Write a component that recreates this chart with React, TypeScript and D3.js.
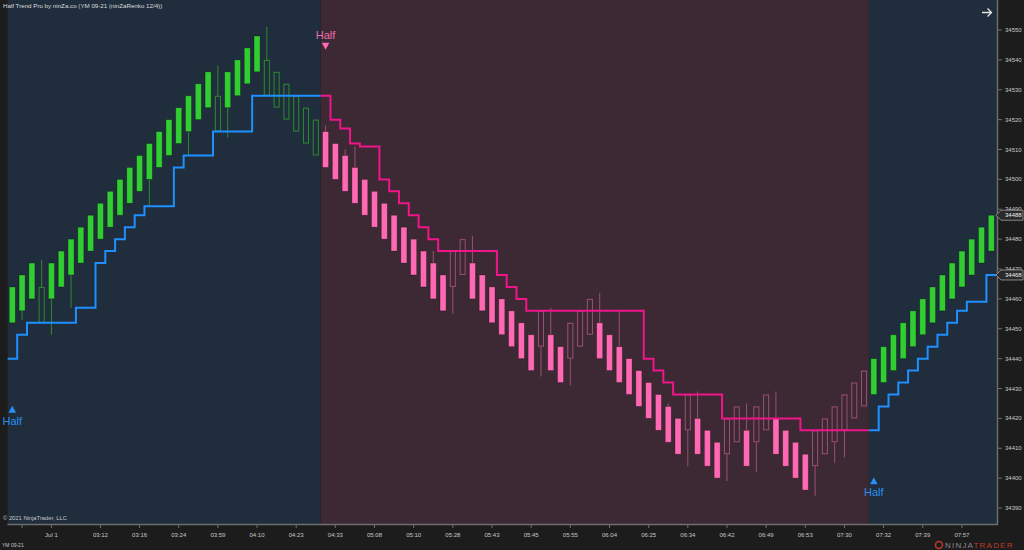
import * as d3 from 'd3'
import React from 'react'

// ninZaRenko 12/4 bricks (YM 09-21)
const opens = [
  34452, 34456, 34460, 34464, 34460, 34464, 34468, 34472, 34476, 34480,
  34484, 34488, 34492, 34496, 34500, 34504, 34508, 34512, 34516, 34520,
  34524, 34528, 34524, 34528, 34532, 34536, 34540, 34536, 34532, 34528,
  34524, 34520, 34516, 34512, 34508, 34504, 34500, 34496, 34492, 34488,
  34484, 34480, 34476, 34472, 34468, 34464, 34468, 34472, 34468, 34464,
  34460, 34456, 34452, 34448, 34444, 34448, 34444, 34440, 34444, 34448,
  34452, 34448, 34444, 34440, 34436, 34432, 34428, 34424, 34420, 34416,
  34420, 34416, 34412, 34408, 34412, 34416, 34412, 34416, 34420, 34416,
  34412, 34408, 34404, 34408, 34412, 34416, 34420, 34424, 34428, 34432,
  34436, 34440, 34444, 34448, 34452, 34456, 34460, 34464, 34468, 34472,
  34476,
]
const closes = [
  34464, 34468, 34472, 34452, 34472, 34476, 34480, 34484, 34488, 34492,
  34496, 34500, 34504, 34508, 34512, 34516, 34520, 34524, 34528, 34532,
  34536, 34516, 34536, 34540, 34544, 34548, 34528, 34524, 34520, 34516,
  34512, 34508, 34504, 34500, 34496, 34492, 34488, 34484, 34480, 34476,
  34472, 34468, 34464, 34460, 34456, 34476, 34480, 34460, 34456, 34452,
  34448, 34444, 34440, 34436, 34456, 34436, 34432, 34452, 34456, 34460,
  34440, 34436, 34432, 34428, 34424, 34420, 34416, 34412, 34408, 34428,
  34408, 34404, 34400, 34420, 34424, 34404, 34424, 34428, 34408, 34404,
  34400, 34396, 34416, 34420, 34424, 34428, 34432, 34436, 34440, 34444,
  34448, 34452, 34456, 34460, 34464, 34468, 34472, 34476, 34480, 34484,
  34488,
]
const highs = [
  34464, 34468, 34472, 34473, 34472, 34476, 34480, 34484, 34488, 34492,
  34496, 34500, 34504, 34508, 34512, 34516, 34520, 34524, 34528, 34532,
  34536, 34538, 34536, 34540, 34544, 34548, 34551, 34536, 34532, 34528,
  34524, 34520, 34518, 34512, 34510, 34511, 34500, 34496, 34492, 34488,
  34484, 34480, 34476, 34476, 34468, 34476, 34480, 34481, 34468, 34464,
  34460, 34456, 34452, 34448, 34456, 34457, 34444, 34452, 34456, 34460,
  34462, 34448, 34456, 34440, 34436, 34432, 34428, 34425, 34420, 34428,
  34429, 34416, 34412, 34420, 34424, 34425, 34424, 34428, 34429, 34416,
  34412, 34408, 34416, 34420, 34424, 34428, 34432, 34436, 34440, 34444,
  34448, 34452, 34456, 34460, 34464, 34468, 34472, 34476, 34480, 34484,
  34488,
]
const lows = [
  34452, 34453, 34460, 34452, 34448, 34464, 34457, 34472, 34476, 34480,
  34484, 34488, 34492, 34496, 34491, 34504, 34508, 34512, 34508, 34520,
  34524, 34516, 34514, 34528, 34532, 34536, 34528, 34524, 34520, 34516,
  34512, 34508, 34504, 34500, 34496, 34492, 34488, 34484, 34480, 34476,
  34472, 34468, 34464, 34460, 34456, 34455, 34468, 34460, 34456, 34452,
  34448, 34444, 34440, 34436, 34434, 34436, 34432, 34431, 34444, 34448,
  34440, 34436, 34432, 34428, 34424, 34420, 34416, 34412, 34408, 34404,
  34408, 34404, 34400, 34399, 34412, 34404, 34402, 34416, 34408, 34404,
  34400, 34396, 34394, 34408, 34405, 34407, 34420, 34424, 34428, 34432,
  34436, 34440, 34444, 34448, 34452, 34456, 34460, 34464, 34468, 34472,
  34476,
]
// HalfTrend line value per bar
const halfTrend = [
  34440, 34448, 34452, 34452, 34452, 34452, 34452, 34457, 34457, 34472,
  34476, 34480, 34484, 34488, 34491, 34491, 34491, 34504, 34508, 34508,
  34508, 34516, 34516, 34516, 34516, 34528, 34528, 34528, 34528, 34528,
  34528, 34528, 34528, 34520, 34517, 34512, 34511, 34511, 34500, 34496,
  34492, 34488, 34484, 34480, 34476, 34476, 34476, 34476, 34476, 34476,
  34468, 34464, 34460, 34456, 34456, 34456, 34456, 34456, 34456, 34456,
  34456, 34456, 34456, 34456, 34456, 34440, 34436, 34432, 34428, 34428,
  34428, 34428, 34428, 34420, 34420, 34420, 34420, 34420, 34420, 34420,
  34420, 34416, 34416, 34416, 34416, 34416, 34416, 34416, 34416, 34424,
  34428, 34432, 34436, 34440, 34444, 34448, 34452, 34456, 34459, 34459,
  34468,
]
// trend flips (bar index where each trend starts) - also where "Half" signals sit
const trendStarts = [0, 32, 88]
const trendDirs = ['up', 'down', 'up']

const timeTickBars = [1, 4, 9, 13, 17, 21, 25, 29, 33, 37, 41, 45, 49, 53, 57, 61, 65, 69, 73, 77, 81, 85, 89, 93, 97]
const timeTickLabels = ['', 'Jul 1', '03:12', '03:16', '03:24', '03:59', '04:10', '04:23', '04:33', '05:08', '05:10', '05:28', '05:43',
  '05:45', '05:55', '06:04', '06:25', '06:34', '06:42', '06:49', '06:53', '07:30', '07:32', '07:39', '07:57']
const priceTicks = d3.range(34390, 34551, 10)
const priceMarkers = [34488, 34468]

const W = 1024
const H = 550
const plot = { left: 7.4, right: 997, top: 0, bottom: 524 }
const font = 'Arial, "Liberation Sans", sans-serif'

const colors = {
  page: '#1c1c1c',
  bgUp: '#1f2d3d',
  bgDown: '#3d2934',
  green: '#32cd32',
  greenDim: '#2e8b2e',
  pink: '#ff69b4',
  pinkDim: '#9c4f77',
  lineUp: '#1e90ff',
  lineDown: '#f0158a',
  axis: '#6e6e6e',
  text: '#c8c8c8',
}

export default function App() {
  const n = opens.length
  const x = d3.scaleBand<number>()
    .domain(d3.range(n))
    .range([plot.left, 996.2])
    .paddingInner(0.38)
    .paddingOuter(0.19)
  const y = d3.scaleLinear().domain([34390, 34550]).range([508, 30])
  const step = x.step()
  const cx = (i: number) => (x(i) as number) + x.bandwidth() / 2

  const trendOf = d3.range(n).map(i => {
    let k = 0
    trendStarts.forEach((s, j) => { if (i >= s) k = j })
    return trendDirs[k]
  })

  const segments = trendStarts.map((s, j) => {
    const e = j + 1 < trendStarts.length ? trendStarts[j + 1] : n
    return { start: s, end: e, dir: trendDirs[j] }
  })

  const line = d3.line<[number, number]>()
  const segPath = (s: number, e: number) => {
    const pts: [number, number][] = []
    for (let i = s; i < e; i++) {
      pts.push([cx(i) - step / 2, y(halfTrend[i])])
      pts.push([cx(i) + step / 2, y(halfTrend[i])])
    }
    return line(pts) || ''
  }

  return (
    <svg width={W} height={H} style={{ position: 'absolute', left: 0, top: 0, background: colors.page }}
      fontFamily={font}>
      <defs>
        <clipPath id="plotClip">
          <rect x={plot.left} y={plot.top} width={plot.right - plot.left} height={plot.bottom - plot.top} />
        </clipPath>
      </defs>
      <rect width={W} height={H} fill={colors.page} />

      <g clipPath="url(#plotClip)">
        {segments.map((sg, j) => (
          <rect key={'bg' + j}
            x={sg.start === 0 ? plot.left : cx(sg.start) - step / 2}
            y={plot.top}
            width={(sg.end === n ? plot.right : cx(sg.end) - step / 2) - (sg.start === 0 ? plot.left : cx(sg.start) - step / 2)}
            height={plot.bottom - plot.top}
            fill={sg.dir === 'up' ? colors.bgUp : colors.bgDown} />
        ))}

        {/* candles */}
        {d3.range(n).map(i => {
          const o = opens[i], c = closes[i]
          const up = trendOf[i] === 'up'
          const filled = (c > o) === up
          const top = Math.max(o, c), bot = Math.min(o, c)
          const wickCol = up ? colors.greenDim : colors.pinkDim
          const bodyCol = up ? colors.green : colors.pink
          return (
            <g key={'c' + i}>
              {highs[i] > top && <line x1={cx(i)} x2={cx(i)} y1={y(highs[i])} y2={y(top)} stroke={wickCol} strokeWidth={1} />}
              {lows[i] < bot && <line x1={cx(i)} x2={cx(i)} y1={y(bot)} y2={y(lows[i])} stroke={wickCol} strokeWidth={1} />}
              {filled ? (
                <rect x={x(i)} y={y(top)} width={x.bandwidth()} height={y(bot) - y(top)}
                  fill={bodyCol} stroke="rgba(0,0,0,0.35)" strokeWidth={0.8} />
              ) : (
                <rect x={(x(i) as number) + 0.5} y={y(top) + 0.5} width={x.bandwidth() - 1} height={y(bot) - y(top) - 1}
                  fill="none" stroke={wickCol} strokeWidth={1} />
              )}
            </g>
          )
        })}

        {/* HalfTrend line */}
        {segments.map((sg, j) => (
          <path key={'ht' + j} d={segPath(sg.start, sg.end)} fill="none"
            stroke={sg.dir === 'up' ? colors.lineUp : colors.lineDown} strokeWidth={2} />
        ))}
      </g>

      {/* Half signals (drawn unclipped, the first one hangs over the left edge) */}
      {trendStarts.map((s, j) => {
        const px = cx(s)
        const ly = y(halfTrend[s])
        if (trendDirs[j] === 'up') {
          const tip = ly + 47
          return (
            <g key={'sig' + j}>
              <path d={`M${px},${tip}L${px + 3.8},${tip + 7}L${px - 3.8},${tip + 7}Z`} fill="#2a8ff0" />
              <text x={px} y={tip + 19} textAnchor="middle" fontSize={11} fill="#2a8ff0">Half</text>
            </g>
          )
        }
        const tip = ly - 46
        return (
          <g key={'sig' + j}>
            <path d={`M${px},${tip}L${px + 3.8},${tip - 7}L${px - 3.8},${tip - 7}Z`} fill={colors.pink} />
            <text x={px} y={tip - 11} textAnchor="middle" fontSize={11} fill="#f06eae">Half</text>
          </g>
        )
      })}

      {/* frame / axes */}
      <line x1={plot.right + 0.5} x2={plot.right + 0.5} y1={0} y2={plot.bottom + 1} stroke={colors.axis} strokeWidth={1.5} />
      <line x1={plot.left} x2={plot.right + 1} y1={plot.bottom + 0.5} y2={plot.bottom + 0.5} stroke={colors.axis} strokeWidth={1.5} />

      {priceTicks.map(p => (
        <g key={'pt' + p}>
          <line x1={plot.right + 1} x2={plot.right + 5} y1={y(p)} y2={y(p)} stroke={colors.axis} />
          <text x={1005} y={y(p)} dy="0.35em" fontSize={6} fill={colors.text}>{p}</text>
        </g>
      ))}

      {priceMarkers.map(p => {
        const yy = y(p)
        return (
          <g key={'pm' + p}>
            <path d={`M${plot.right - 1},${yy}L${plot.right + 4},${yy - 5}L1023,${yy - 5}L1023,${yy + 5}L${plot.right + 4},${yy + 5}Z`}
              fill="#2a2a2a" stroke="#a0a0a0" strokeWidth={0.8} />
            <text x={1005} y={yy} dy="0.35em" fontSize={6} fill="#f0f0f0">{p}</text>
          </g>
        )
      })}

      {timeTickBars.map((b, k) => (
        <g key={'tt' + b}>
          <line x1={cx(b)} x2={cx(b)} y1={plot.bottom + 1} y2={plot.bottom + 4} stroke={colors.axis} />
          <text x={cx(b)} y={537} textAnchor="middle" fontSize={6} fill={colors.text}>{timeTickLabels[k]}</text>
        </g>
      ))}

      <text x={3} y={8} fontSize={6.2} fill="#dcdcdc">Half Trend Pro by ninZa.co (YM 09-21 (ninZaRenko 12/4))</text>
      <text x={3} y={519.5} fontSize={5.8} fill={colors.text}>© 2021 NinjaTrader, LLC</text>
      <text x={2} y={547} fontSize={5} fill={colors.text}>YM 09-21</text>

      {/* top-right arrow button */}
      <path d="M982,12.5H991M987.5,8.5L991.5,12.5L987.5,16.5" fill="none" stroke="#e6e6e6" strokeWidth={1.3} />

      <g>
        <circle cx={939} cy={545} r={3.5} fill="none" stroke="#c0392b" strokeWidth={1.5} />
        <text x={945} y={548} fontSize={8} letterSpacing={1.2}>
          <tspan fill="#8a8a8a">NINJA</tspan>
          <tspan fill="#c0392b">TRADER</tspan>
        </text>
      </g>
    </svg>
  )
}
